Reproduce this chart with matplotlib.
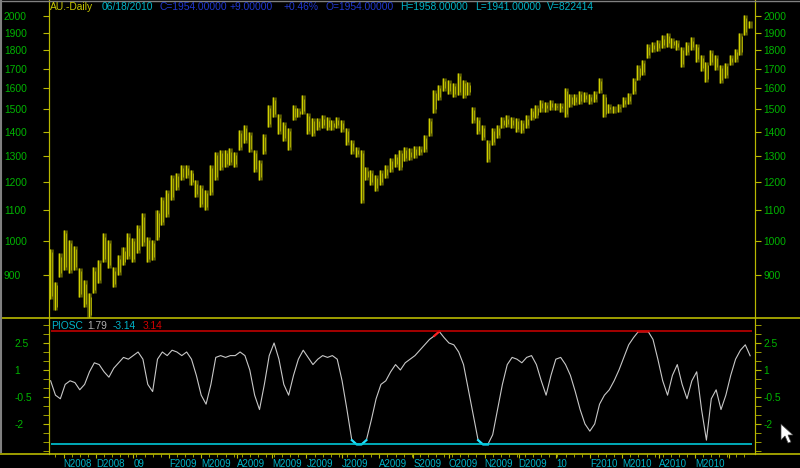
import matplotlib
matplotlib.use("Agg")
import matplotlib.pyplot as plt
from matplotlib.lines import Line2D
from matplotlib.patches import Polygon
from matplotlib.ticker import FixedLocator, NullLocator
import numpy as np
import pandas as pd

plt.rcParams["font.family"] = ["Liberation Sans", "DejaVu Sans"]

# AU daily, one bar every 3 trading days (22 Oct 2008 .. 18 Jun 2010)
highs = [975, 880, 962, 1033, 1002, 985, 920, 885, 850, 921,
         942, 1023, 1002, 921, 956, 980, 1023, 1008, 1049, 1088,
         1011, 1002, 1099, 1144, 1169, 1225, 1233, 1265, 1265, 1243,
         1205, 1187, 1169, 1265, 1314, 1322, 1322, 1330, 1314, 1407,
         1429, 1398, 1322, 1282, 1389, 1519, 1558, 1476, 1442, 1416,
         1519, 1506, 1566, 1485, 1460, 1460, 1472, 1465, 1451, 1465,
         1451, 1416, 1364, 1335, 1322, 1254, 1243, 1225, 1243, 1262,
         1290, 1306, 1322, 1335, 1330, 1339, 1339, 1385, 1460, 1592,
         1616, 1651, 1642, 1626, 1680, 1642, 1632, 1511, 1465, 1429,
         1364, 1416, 1429, 1465, 1472, 1465, 1460, 1451, 1472, 1506,
         1519, 1544, 1534, 1544, 1530, 1530, 1602, 1573, 1573, 1587,
         1582, 1573, 1587, 1651, 1573, 1525, 1515, 1525, 1558, 1578,
         1651, 1719, 1746, 1836, 1846, 1857, 1884, 1900, 1868, 1857,
         1820, 1846, 1873, 1836, 1774, 1735, 1801, 1774, 1719, 1730,
         1774, 1807, 1900, 2006, 1970]
lows = [835, 807, 895, 913, 905, 913, 840, 815, 787, 850,
        877, 936, 920, 866, 899, 927, 945, 936, 962, 985,
        936, 942, 1002, 1049, 1076, 1133, 1169, 1205, 1213, 1187,
        1144, 1110, 1099, 1150, 1205, 1243, 1254, 1262, 1254, 1322,
        1351, 1314, 1236, 1205, 1306, 1419, 1465, 1389, 1360, 1322,
        1451, 1465, 1476, 1389, 1380, 1407, 1416, 1407, 1407, 1416,
        1398, 1343, 1306, 1294, 1123, 1205, 1187, 1165, 1187, 1213,
        1236, 1254, 1243, 1278, 1282, 1290, 1302, 1314, 1380, 1485,
        1544, 1587, 1573, 1558, 1566, 1553, 1566, 1437, 1389, 1364,
        1274, 1343, 1372, 1416, 1420, 1416, 1398, 1394, 1416, 1451,
        1460, 1489, 1489, 1497, 1497, 1489, 1465, 1511, 1519, 1525,
        1534, 1525, 1534, 1578, 1465, 1485, 1485, 1489, 1511, 1525,
        1573, 1642, 1667, 1757, 1791, 1796, 1813, 1820, 1813, 1801,
        1709, 1774, 1801, 1735, 1687, 1632, 1719, 1692, 1626, 1651,
        1719, 1735, 1774, 1884, 1930]
piosc = [0.4, -0.4, -0.6, 0.2, 0.4, 0.3, -0.1, 0.2, 0.9, 1.4,
         1.3, 0.9, 0.6, 1.1, 1.4, 1.7, 1.6, 1.8, 2.0, 1.6,
         0.2, -0.2, 1.6, 2.0, 1.8, 2.1, 2.0, 1.8, 2.0, 1.6,
         0.7, -0.4, -0.9, 0.2, 1.7, 1.8, 1.7, 1.8, 1.8, 2.0,
         1.8, 1.0, -0.4, -1.2, 0.2, 1.8, 2.5, 1.6, 0.2, -0.4,
         0.7, 1.6, 2.1, 1.7, 1.3, 1.6, 1.8, 1.7, 1.8, 1.6,
         0.4, -1.2, -2.9, -3.14, -3.14, -2.9, -1.8, -0.6, 0.2, 0.4,
         0.9, 1.3, 1.0, 1.4, 1.6, 1.8, 2.1, 2.4, 2.7, 2.9,
         3.14, 2.8, 2.5, 2.4, 2.0, 1.3, -0.1, -1.5, -2.9, -3.14,
         -3.14, -2.6, -1.2, 0.2, 1.3, 1.7, 1.6, 1.4, 1.7, 1.8,
         1.3, 0.4, -0.4, 0.7, 1.6, 1.7, 1.3, 0.7, -0.2, -1.2,
         -2.0, -2.4, -2.0, -0.9, -0.4, -0.1, 0.4, 1.0, 1.7, 2.4,
         2.8, 3.14, 3.14, 3.14, 2.7, 1.6, 0.4, -0.4, 0.7, 1.3,
         0.2, -0.6, 0.4, 0.9, -1.2, -2.9, -0.6, -0.1, -1.2, -0.4,
         0.7, 1.6, 2.1, 2.4, 1.79]
band = 3.14
price_ticks = [900, 1000, 1100, 1200, 1300, 1400, 1500, 1600, 1700, 1800, 1900, 2000]
osc_labels = [2.5, 1, -0.5, -2]

YEL = "#b8b800"
GRN = "#00b400"
CYAN = "#00b4c8"
FS = 7.4

days = pd.bdate_range("2008-10-22", "2010-06-18")
bar_x = np.arange(0, len(days), 3)[:len(highs)]

W, H = 800, 468
fig = plt.figure(figsize=(W / 100, H / 100), dpi=100, facecolor="black")
ax1 = fig.add_axes([49 / W, 1 - 318 / H, 706 / W, 318 / H], facecolor="black")
ax2 = fig.add_axes([49 / W, 1 - 454 / H, 706 / W, 136 / H], facecolor="black", sharex=ax1)

# price bars: dark olive body plus a bright stroke, like the dense daily bars
ax1.vlines(bar_x, lows, highs, color="#5c5c00", lw=3.3)
ax1.vlines(bar_x - 0.6, lows, highs, color="#d0d000", lw=0.8)
ax1.vlines(bar_x + 0.7, np.array(lows) * 1.01, np.array(highs) * 0.99, color="#a8a800", lw=0.7)
ax1.set_yscale("log")
ax1.set_ylim(788, 2101)
ax1.set_xlim(-1, 435)

ax1r = ax1.twinx()
ax1r.set_yscale("log")
ax1r.set_ylim(ax1.get_ylim())
for a in (ax1, ax1r):
    a.yaxis.set_major_locator(FixedLocator(price_ticks))
    a.yaxis.set_minor_locator(NullLocator())
    a.set_yticks(price_ticks, labels=[str(p) for p in price_ticks])
    a.tick_params(axis="y", which="both", colors=YEL, labelcolor=GRN, labelsize=FS,
                  length=4, direction="out")
ax1.tick_params(axis="y", pad=28.5)
plt.setp(ax1.get_yticklabels(), ha="left")
ax1r.tick_params(axis="y", pad=2)
ax1.tick_params(axis="x", which="both", bottom=False, labelbottom=False)
ax1r.tick_params(axis="x", which="both", bottom=False, labelbottom=False)

# oscillator
osc = np.clip(np.array(piosc), -band, band)
ax2.plot(bar_x, osc, color="#c8c8c8", lw=0.8)
hi = np.where(osc >= band - 0.3, osc, np.nan)
lo = np.where(osc <= -band + 0.3, osc, np.nan)
ax2.plot(bar_x, hi, color="#ff2020", lw=1.6)
ax2.plot(bar_x, lo, color="#20e0ff", lw=1.6)
ax2.hlines([band], 0, bar_x[-1] + 1, color="#c00000", lw=1.2)
ax2.hlines([-band], 0, bar_x[-1] + 1, color="#00c8d8", lw=1.2)
ax2.set_ylim(-3.67, 3.89)

ax2r = ax2.twinx()
ax2r.set_ylim(ax2.get_ylim())
for a in (ax2, ax2r):
    a.set_yticks(osc_labels, labels=[f"{v:g}" for v in osc_labels])
    a.yaxis.set_minor_locator(FixedLocator(np.arange(-3.5, 3.6, 0.5)))
    a.tick_params(axis="y", which="both", colors=YEL, labelcolor=GRN, labelsize=FS,
                  length=4, direction="out")
ax2.tick_params(axis="y", pad=21)
plt.setp(ax2.get_yticklabels(), ha="left")
ax2r.tick_params(axis="y", pad=2)
ax2r.tick_params(axis="x", which="both", bottom=False, labelbottom=False)

# month / week ticks on the bottom axis
month_pos, month_lab = [], []
for m in pd.date_range("2008-11-01", "2010-05-01", freq="MS"):
    month_pos.append(int(np.searchsorted(days, m)))
    month_lab.append(f"{m.year % 100:02d}" if m.month == 1 else f"{m.strftime('%b')[0]}{m.year}")
june = int(np.searchsorted(days, pd.Timestamp("2010-06-01")))
week_pos = [i for i, d in enumerate(days) if d.weekday() == 0]
ax2.set_xticks(month_pos + [june], labels=month_lab + [""])
ax2.xaxis.set_minor_locator(FixedLocator(week_pos))
ax2.tick_params(axis="x", which="major", colors=YEL, labelcolor=CYAN, labelsize=7,
                length=3, pad=0.5)
ax2.tick_params(axis="x", which="minor", colors=YEL, length=2)
plt.setp(ax2.get_xticklabels(), ha="left")

for a in (ax1, ax1r, ax2, ax2r):
    for s in a.spines.values():
        s.set_visible(False)
    a.spines["left"].set_visible(True)
    a.spines["right"].set_visible(True)
    a.spines["left"].set_color(YEL)
    a.spines["right"].set_color(YEL)

# full-width separators and window edge
for yy in (318, 454):
    fig.add_artist(Line2D([0, 1], [1 - yy / H, 1 - yy / H], color=YEL, lw=1.2))
fig.add_artist(Line2D([1 / W, 1 / W], [1 - 452 / H, 1], color="#808080", lw=1.5))
fig.add_artist(Line2D([0, 1], [1 - 0.5 / H, 1 - 0.5 / H], color="#808080", lw=1))

# header texts
head = [(50, "AU.-Daily", "#c8c800"), (102, "06/18/2010", CYAN),
        (160, "C=1954.00000", "#2038d0"), (230, "+9.00000", "#2038d0"),
        (284, "+0.46%", "#2038d0"), (325, "O=1954.00000", "#2038d0"),
        (400, "H=1958.00000", CYAN), (475, "L=1941.00000", CYAN),
        (547, "V=822414", CYAN)]
for x, s, c in head:
    fig.text(x / W, 1 - 7 / H, s, color=c, fontsize=FS, ha="left", va="center")
sub = [(51, "PIOSC", CYAN), (87, "1.79", "#b0b0b0"), (113, "-3.14", CYAN), (143, "3.14", "#d00000")]
for x, s, c in sub:
    fig.text(x / W, 1 - 326 / H, s, color=c, fontsize=FS, ha="left", va="center")

# mouse pointer left on the screenshot
ptr = [(781, 424), (781, 440), (785, 436), (788, 443), (791, 442), (788, 435), (793, 435)]
fig.add_artist(Polygon([(px / W, 1 - py / H) for px, py in ptr], closed=True,
                       facecolor="white", edgecolor="#404040", lw=0.5))

fig.savefig("out.png", dpi=100, facecolor="black")
